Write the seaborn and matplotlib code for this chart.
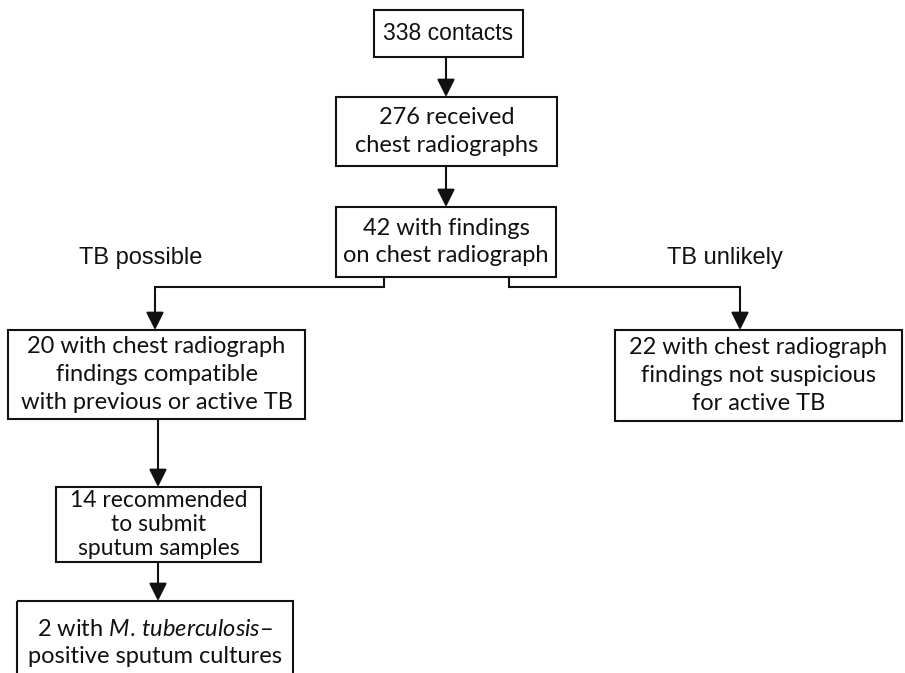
import matplotlib
matplotlib.use("Agg")
import matplotlib.pyplot as plt
import seaborn as sns
from matplotlib.patches import Rectangle

# box texts of the flow chart
box_texts = [
    "338 contacts",
    "276 received\nchest radiographs",
    "42 with findings\non chest radiograph",
    "20 with chest radiograph\nfindings compatible\nwith previous or active TB",
    "22 with chest radiograph\nfindings not suspicious\nfor active TB",
    "14 recommended\nto submit\nsputum samples",
    r"2 with $\mathit{M.\,tuberculosis}$–" + "\npositive sputum cultures",
]
branch_labels = ["TB possible", "TB unlikely"]

# layout in pixel coordinates (x0, y0, x1, y1)
boxes = [
    (374, 10, 523, 57),
    (336, 97, 557, 166),
    (336, 207, 556, 277),
    (8, 330, 305, 419),
    (615, 330, 902, 421),
    (56, 487, 261, 562),
    (17, 601, 293, 690),
]
box_fonts = ["Liberation Sans", "Lato", "Lato", "Lato", "Lato", "Lato", "Lato"]
box_sizes = [16.5, 17, 17, 17, 17, 16.5, 17]
box_spacing = [1.2, 1.4, 1.4, 1.4, 1.4, 1.15, 1.4]

sns.set_theme(style="white")
plt.rcParams["mathtext.fontset"] = "custom"
plt.rcParams["mathtext.rm"] = "Lato"
plt.rcParams["mathtext.it"] = "Lato:italic"

fig = plt.figure(figsize=(9.05, 6.73), dpi=100)
ax = fig.add_axes([0, 0, 1, 1])
ax.set_xlim(0, 905)
ax.set_ylim(673, 0)
ax.axis("off")

lw = 1.5
for (x0, y0, x1, y1), txt, fnt, fs, sp in zip(boxes, box_texts, box_fonts,
                                              box_sizes, box_spacing):
    ax.add_patch(Rectangle((x0, y0), x1 - x0, y1 - y0, fill=False,
                           edgecolor="#111111", linewidth=lw))
    cy = (y0 + y1) / 2 if y1 <= 673 else y0 + 42
    ax.text((x0 + x1) / 2, cy, txt, ha="center", va="center",
            fontsize=fs, family=fnt, color="#111111", linespacing=sp)

arrow = dict(arrowstyle="-|>,head_length=0.9,head_width=0.45", color="#111111",
             lw=lw, shrinkA=0, shrinkB=0)


def down_arrow(x, y0, y1):
    ax.annotate("", xy=(x, y1), xytext=(x, y0), arrowprops=arrow)


down_arrow(446, 57, 97)
down_arrow(446, 166, 207)
down_arrow(158, 419, 487)
down_arrow(158, 562, 601)

# elbow connectors from the third box
ax.plot([384, 384, 155, 155], [277, 287, 287, 300], color="#111111", lw=lw,
        solid_joinstyle="miter")
down_arrow(155, 299, 330)
ax.plot([509, 509, 740, 740], [277, 287, 287, 300], color="#111111", lw=lw,
        solid_joinstyle="miter")
down_arrow(740, 299, 330)

ax.text(141, 258, branch_labels[0], ha="center", va="center", fontsize=17,
        family="Liberation Sans", color="#111111")
ax.text(725, 258, branch_labels[1], ha="center", va="center", fontsize=17,
        family="Liberation Sans", color="#111111")

fig.savefig("out.png", dpi=100, facecolor="white")
